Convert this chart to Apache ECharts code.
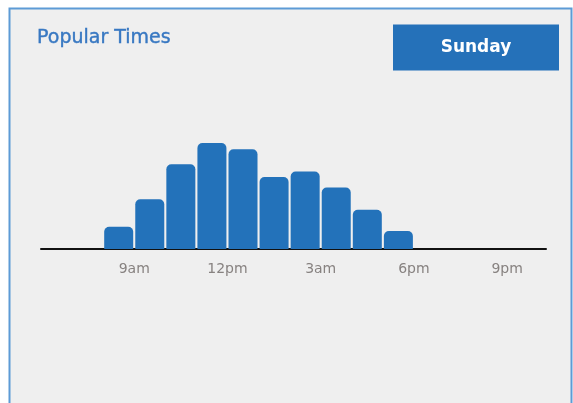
<!DOCTYPE html>
<html>
<head>
<meta charset="utf-8">
<script src="https://cdn.jsdelivr.net/npm/echarts@6/dist/echarts.min.js"></script>
<style>
  html, body { margin: 0; padding: 0; background: #ffffff; }
  #chart { width: 573px; height: 403px; }
</style>
</head>
<body>
<div id="chart"></div>
<script>
// Hour of day at which each bar starts (24h clock)
const hours = [8, 9, 10, 11, 12, 13, 14, 15, 16, 17];
// Relative busyness per hour (peak = 100)
const busyness = [21, 47, 80, 100, 94, 68, 73, 58, 37, 17];
// Tick positions (hour of day) and their labels
const tickHours = [9, 12, 15, 18, 21];
const tickLabels = ['9am', '12pm', '3am', '6pm', '9pm'];
const dayName = 'Sunday';

const chart = echarts.init(document.getElementById('chart'), null, { renderer: 'canvas' });

const barData = hours.map((h, i) => [h + 0.5, busyness[i]]);

chart.setOption({
  animation: false,
  backgroundColor: '#ffffff',
  graphic: [
    {
      type: 'rect',
      z: -10,
      shape: { x: 9.5, y: 8.5, width: 562, height: 420 },
      style: { fill: '#efefef', stroke: '#5d9bd6', lineWidth: 2 }
    },
    {
      type: 'rect',
      shape: { x: 393, y: 24.5, width: 166, height: 46 },
      style: { fill: '#2571b9' }
    },
    {
      type: 'text',
      x: 476, y: 47.5,
      style: {
        text: dayName,
        fill: '#ffffff',
        font: 'bold 17px "DejaVu Sans", sans-serif',
        align: 'center',
        verticalAlign: 'middle'
      }
    }
  ],
  title: {
    text: 'Popular Times',
    left: 32,
    top: 24,
    textStyle: {
      color: '#3878c2',
      fontSize: 19,
      fontWeight: 'normal',
      fontFamily: '"DejaVu Sans", sans-serif',
      textBorderColor: '#3878c2',
      textBorderWidth: 0.4
    }
  },
  grid: { left: 41, right: 27, top: 143, bottom: 154 },
  xAxis: {
    type: 'value',
    min: 6,
    max: 22.25,
    splitLine: { show: false },
    axisTick: { show: false },
    axisLine: { show: true, onZero: false, lineStyle: { color: '#111111', width: 2 } },
    axisLabel: {
      customValues: tickHours,
      formatter: v => tickLabels[tickHours.indexOf(v)],
      color: '#878280',
      fontSize: 14,
      fontFamily: '"DejaVu Sans", sans-serif',
      margin: 13
    }
  },
  yAxis: {
    type: 'value',
    min: 0,
    max: 100,
    show: false
  },
  series: [{
    type: 'bar',
    data: barData,
    barWidth: 29,
    itemStyle: { color: '#2372ba', borderRadius: [5, 5, 0, 0] },
    z: 1
  }]
});
</script>
</body>
</html>
